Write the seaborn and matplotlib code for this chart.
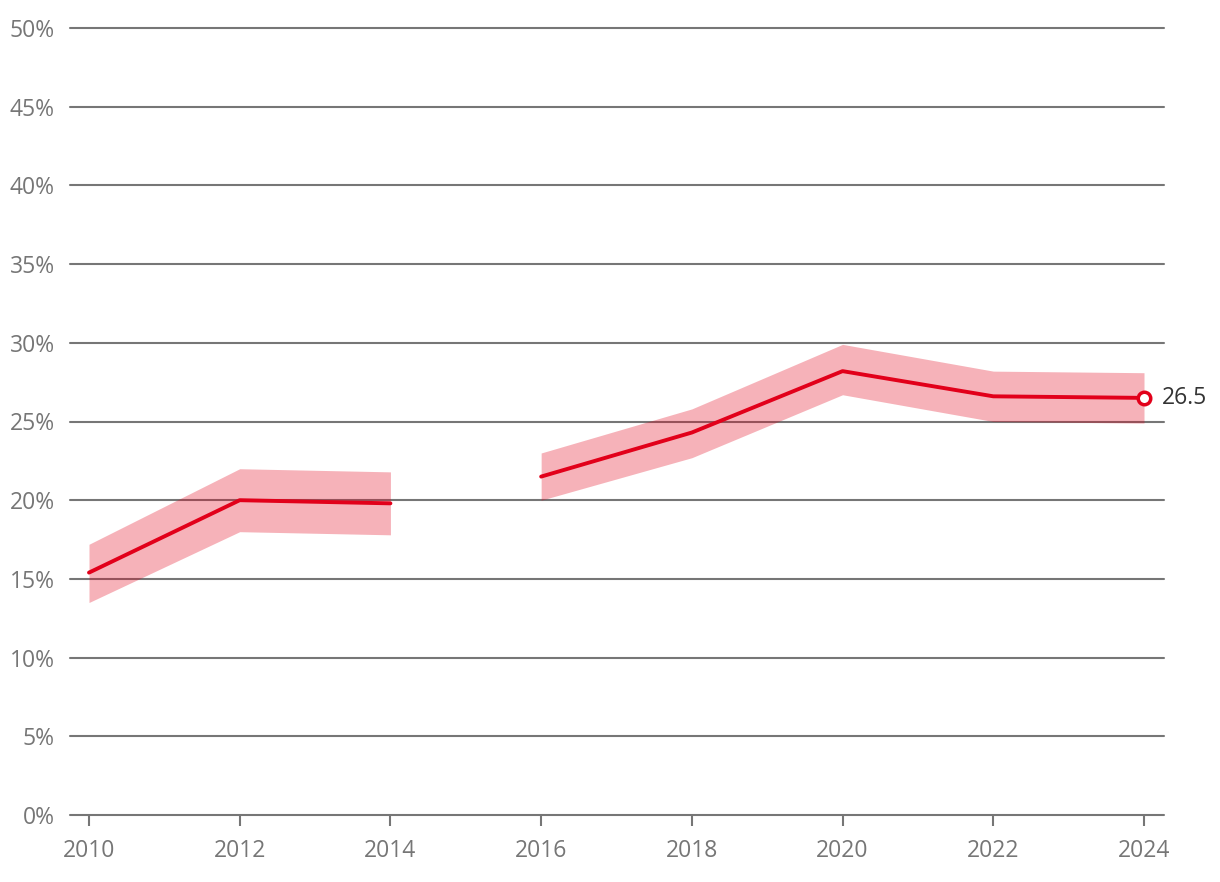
import matplotlib
matplotlib.use("Agg")
import matplotlib.pyplot as plt
import seaborn as sns
import pandas as pd
import numpy as np

years = [2010, 2012, 2014, 2016, 2018, 2020, 2022, 2024]
values = [15.4, 20.0, 19.8, 21.5, 24.3, 28.2, 26.6, 26.5]
upper = [17.2, 22.0, 21.8, 23.0, 25.8, 29.9, 28.2, 28.1]
lower = [13.5, 18.0, 17.8, 20.0, 22.7, 26.7, 25.0, 24.9]
segment = [1, 1, 1, 2, 2, 2, 2, 2]
yticks = [0, 5, 10, 15, 20, 25, 30, 35, 40, 45, 50]
xticks = [2010, 2012, 2014, 2016, 2018, 2020, 2022, 2024]
end_label = "26.5"

sns.set_theme(style="white")
plt.rcParams['font.family'] = ['Open Sans', 'DejaVu Sans']

RED = "#E2001A"
GRID = "#767676"

df = pd.DataFrame({"year": years, "value": values, "upper": upper,
                   "lower": lower, "segment": segment})

fig = plt.figure(figsize=(12.2, 8.82), dpi=100)
ax = fig.add_axes([70/1220, 1 - 815/882, (1164-70)/1220, (815-28)/882])

for y in yticks:
    ax.axhline(y, color=GRID, lw=1.5, zorder=1, clip_on=False)

for seg, d in df.groupby("segment"):
    ax.fill_between(d["year"], d["lower"], d["upper"], color=RED, alpha=0.3,
                    lw=0, zorder=2)

sns.lineplot(data=df, x="year", y="value", units="segment", estimator=None,
             color=RED, lw=2.8, ax=ax, zorder=3, legend=False)

ax.plot([years[-1]], [values[-1]], marker="o", ms=9, mfc="white", mec=RED,
        mew=2.5, zorder=4, clip_on=False)
ax.annotate(end_label, (years[-1], values[-1]), xytext=(13, 0),
            textcoords="offset points", va="center", ha="left",
            fontsize=16.5, color="#333333")

ax.set_xlim(2010 - 19/75.36, 2024 + 20/75.36)
ax.set_ylim(0, 50)
ax.set_yticks(yticks)
ax.set_yticklabels([f"{v}%" for v in yticks])
ax.set_xticks(xticks)
ax.set_xticklabels([str(x) for x in xticks])
ax.set_xlabel("")
ax.set_ylabel("")
for s in ax.spines.values():
    s.set_visible(False)
ax.tick_params(axis="y", length=0, pad=11, labelsize=16.5, labelcolor=GRID)
ax.tick_params(axis="x", length=8, width=1.5, color=GRID, pad=9,
               labelsize=16.5, labelcolor=GRID, bottom=True)

fig.savefig("out.png", dpi=100)
